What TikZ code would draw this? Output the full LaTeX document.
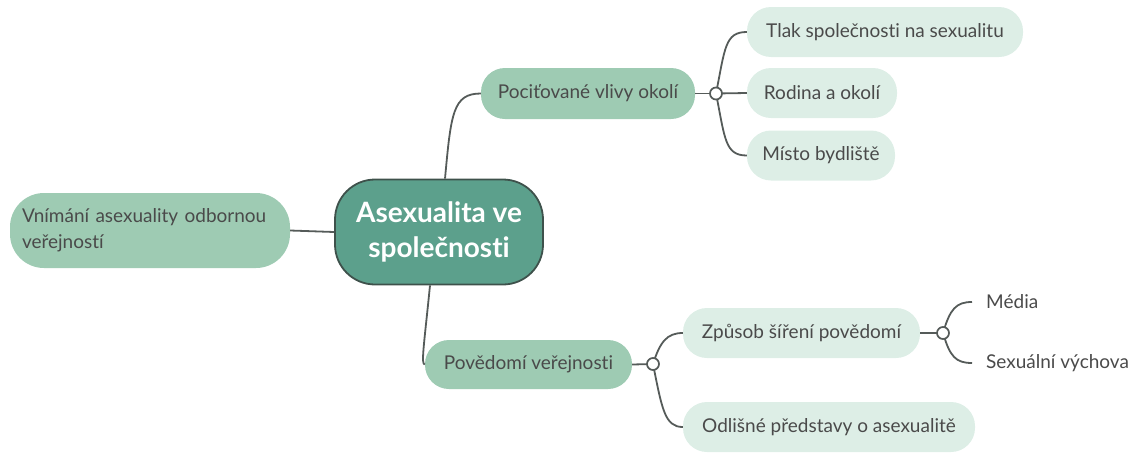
\documentclass[tikz,border=0pt]{standalone}
\usepackage{fontspec}
\setmainfont{Lato}[Ligatures=NoCommon]
\usetikzlibrary{calc}
\definecolor{cfill}{HTML}{5CA08C}
\definecolor{cborder}{HTML}{3E514B}
\definecolor{mfill}{HTML}{9ECBB3}
\definecolor{lfill}{HTML}{DDEEE6}
\definecolor{txt}{HTML}{4A4A4A}
\definecolor{link}{HTML}{555B59}
\begin{document}
\begin{tikzpicture}[x=1pt,y=-1pt,
  every node/.style={font=\fontsize{19}{26}\selectfont, text=txt},
  central/.style={draw=cborder, line width=1.8pt, fill=cfill, rounded corners=40pt,
    minimum width=208pt, minimum height=105pt, align=center, text=white,
    font=\fontsize{28}{35}\selectfont\bfseries, inner sep=0pt},
  mainbox/.style={fill=mfill, rounded corners=24pt, minimum height=50pt, inner sep=0pt},
  leafbox/.style={fill=lfill, rounded corners=24pt, minimum height=50pt, inner sep=0pt},
  plain/.style={inner xsep=14pt, inner ysep=4pt, anchor=west},
  hub/.style={circle, draw=link, line width=1.7pt, fill=white, minimum size=12pt, inner sep=0pt},
  conn/.style={draw=link, line width=1.8pt}
]
\useasboundingbox (0,0) rectangle (1145,453);

\node[central] (C) at (439,232) {Asexualita ve\\společnosti};

\node[mainbox, minimum width=280pt, minimum height=75pt, rounded corners=34pt, align=left, text width=256pt, inner xsep=12pt, font=\fontsize{19}{26}\selectfont] (L) at (150,230.5) {Vnímání asexuality odbornou\\veřejností};
\node[mainbox, minimum width=214pt, minimum height=51pt] (P) at (588,93.5) {Pociťované vlivy okolí};
\node[mainbox, minimum width=207pt, minimum height=49pt] (V) at (528.5,364.5) {Povědomí veřejnosti};

\node[leafbox, minimum width=276pt] (T) at (885,32) {Tlak společnosti na sexualitu};
\node[leafbox, minimum width=150pt] (R) at (822,93) {Rodina a okolí};
\node[leafbox, minimum width=148pt] (M) at (821,155.5) {Místo bydliště};
\node[leafbox, minimum width=237pt] (Z) at (801.5,333) {Způsob šíření povědomí};
\node[leafbox, minimum width=292pt] (O) at (829,427) {Odlišné představy o asexualitě};

\node[plain] (Me) at (972,302) {Média};
\node[plain] (S) at (972,363) {Sexuální výchova};

\coordinate (h1) at (716,93.5);
\coordinate (h2) at (653,364);
\coordinate (h3) at (943,333);

% central connectors
\draw[conn] (C.west) -- (L.east);
\draw[conn] ($(C.north)+(6,0)$) .. controls +(6,-65) and +(-28,0) .. (P.west);
\draw[conn] ($(C.south)+(-9,0)$) .. controls +(-6,60) and +(-4,0) .. (V.west);

% hub 1
\draw[conn] (P.east) -- (h1);
\draw[conn] (h1) .. controls +(9,-45) and +(-22,0) .. (T.west);
\draw[conn] (h1) -- (R.west);
\draw[conn] (h1) .. controls +(9,45) and +(-22,0) .. (M.west);
\node[hub] (H1) at (h1) {};

% hub 2
\draw[conn] (V.east) -- (h2);
\draw[conn] (h2) .. controls +(7,-22) and +(-16,0) .. (Z.west);
\draw[conn] (h2) .. controls +(9,45) and +(-18,0) .. (O.west);
\node[hub] (H2) at (h2) {};

% hub 3
\draw[conn] (Z.east) -- (h3);
\draw[conn] (h3) .. controls +(7,-24) and +(-16,0) .. (Me.west);
\draw[conn] (h3) .. controls +(7,24) and +(-16,0) .. (S.west);
\node[hub] (H3) at (h3) {};
\end{tikzpicture}
\end{document}
